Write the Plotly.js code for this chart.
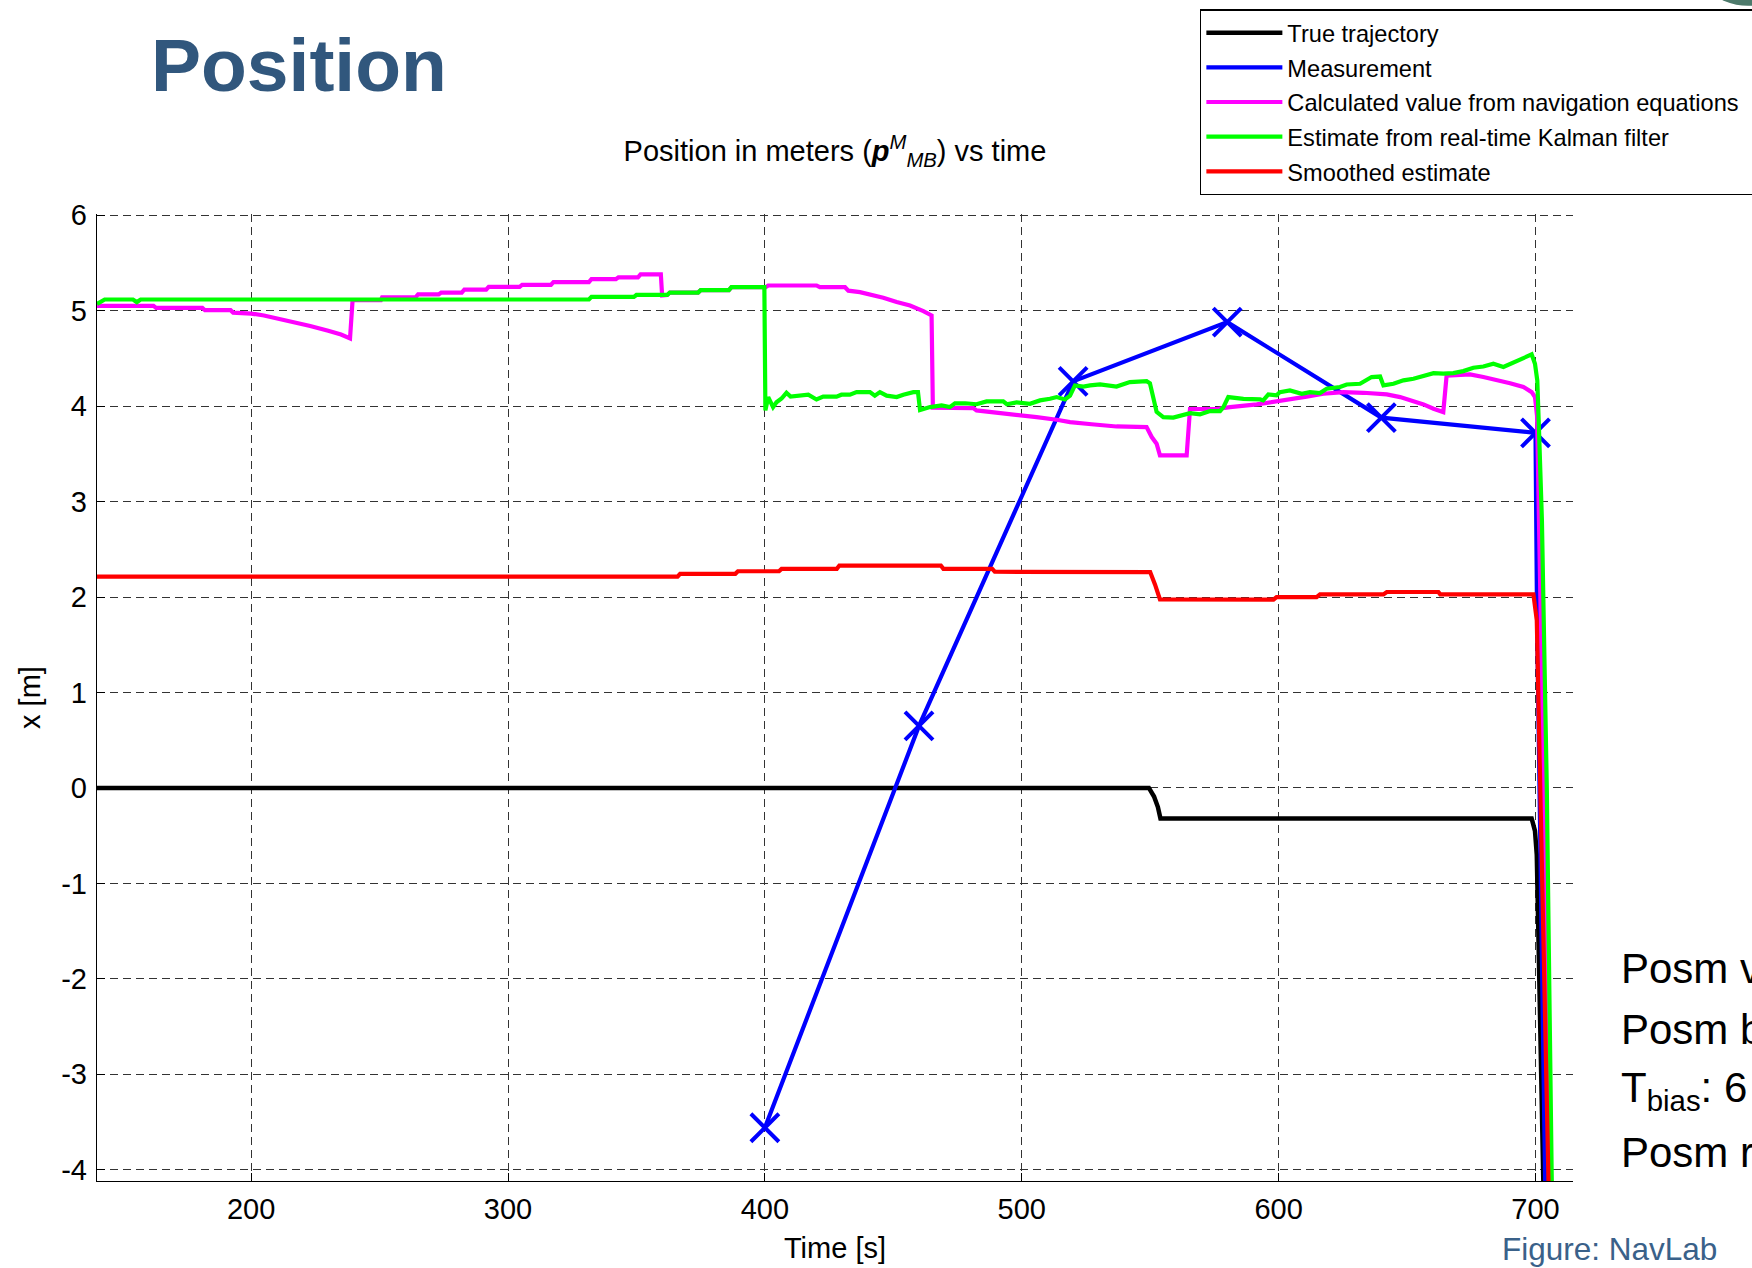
<!DOCTYPE html>
<html>
<head>
<meta charset="utf-8">
<script src="https://cdn.plot.ly/plotly-3.0.1.min.js"></script>
<style>
  html, body { margin: 0; padding: 0; background: #ffffff; overflow: hidden; }
  #chart { width: 1752px; height: 1268px; }
</style>
</head>
<body>
<div id="chart"></div>
<script>
// ---------------- data ----------------
const legendNames = [
  'True trajectory',
  'Measurement',
  'Calculated value from navigation equations\u00a0\u00a0',
  'Estimate from real-time Kalman filter',
  'Smoothed estimate'
];

// True trajectory
const tTrue = [140, 549.5, 551.5, 553, 554, 698.5, 699.8, 700.5, 701.1, 702, 703, 703.4];
const xTrue = [0, 0, -0.09, -0.2, -0.32, -0.32, -0.45, -0.7, -1.49, -2.51, -4.0, -4.6];

// Measurements (crosses) and the tail of the measurement line
const tMeas = [400, 460, 520, 580, 640, 700];
const xMeas = [-3.56, 0.65, 4.26, 4.88, 3.88, 3.72];
const tMeasTail = [700.6, 704];
const xMeasTail = [1.8, -4.6];

// Calculated value from navigation equations
const tNav = [140, 162, 163, 181, 182, 192, 193, 200, 205, 210, 216, 223, 230, 235, 238.5, 239.5,
  250.5, 251, 264, 265, 273, 274, 282, 283, 291.5, 292.5, 304.5, 305.5, 316.7, 317.7, 331.5, 332.5,
  342, 343, 350.6, 351.6, 359.5, 360, 362, 363, 374, 375, 386, 387, 400.3, 401.3, 420.1, 421.4, 431.2,
  432.5, 437, 440.9, 446.1, 451.3, 456.5, 461.7, 464.9, 465.4, 481.1, 482.4, 488.9, 498, 505.8, 513.6,
  518.8, 527.2, 536.9, 548.6, 550.6, 552.5, 553.8, 564.2, 565.5, 576, 581.1, 591.5, 597.9, 604.4,
  610.9, 617.4, 625.2, 633, 638.2, 642.1, 647.3, 651.8, 656.4, 660.3, 664.1, 665.4, 674.5, 679.7,
  684.9, 690.1, 695.3, 698.5, 699.8, 700.6, 706.2, 706.5];
const xNav = [5.05, 5.05, 5.03, 5.03, 5.005, 5.005, 4.98, 4.97, 4.95, 4.92, 4.89, 4.84, 4.79, 4.75, 4.71, 5.11,
  5.11, 5.14, 5.14, 5.17, 5.17, 5.19, 5.19, 5.22, 5.22, 5.25, 5.25, 5.27, 5.27, 5.30, 5.30, 5.33,
  5.33, 5.35, 5.35, 5.38, 5.38, 5.16, 5.165, 5.19, 5.19, 5.215, 5.215, 5.246, 5.246, 5.264, 5.264, 5.246, 5.246,
  5.21, 5.194, 5.17, 5.135, 5.09, 5.054, 4.995, 4.95, 3.983, 3.98, 3.955, 3.937, 3.913, 3.885, 3.857,
  3.833, 3.81, 3.787, 3.78, 3.676, 3.606, 3.484, 3.484, 3.97, 3.97, 3.99, 4.018, 4.042, 4.077,
  4.10, 4.13, 4.147, 4.14, 4.135, 4.123, 4.095, 4.06, 4.018, 3.973, 3.938, 4.32, 4.332, 4.305,
  4.277, 4.24, 4.20, 4.147, 4.095, 3.9, -4.3, -4.7];

// Estimate from real-time Kalman filter
const tKf = [140, 143, 154, 155.5, 157, 331.5, 332.5, 349, 350, 362, 363, 374, 375, 386, 387, 399.8, 400.2,
  401.3, 403.2, 404.5, 406.5, 408.4, 410, 412.3, 414.5, 416.9, 420.1, 422.7, 425, 427.9, 429.8, 433.1,
  435.7, 440.9, 442.8, 444.8, 447.4, 451.3, 453.9, 457.8, 459.6, 460.4, 464.3, 468.8, 472, 474, 478,
  482.4, 486.3, 492.8, 494.2, 498, 503.2, 507.1, 511, 513.6, 516.8, 518.8, 520.7, 524, 526.6, 530.5,
  536.9, 539.5, 542.1, 548.6, 549.9, 552.5, 555.1, 559, 561.6, 565.5, 569.4, 573.3, 577.2, 578.5,
  580.4, 586.3, 592.8, 594, 596, 599.2, 600.5, 604.4, 609, 612.2, 616.1, 618.7, 623.9, 626.5, 631.7,
  634.3, 636.2, 639.5, 640.8, 644.7, 648.6, 652.5, 656.4, 660.3, 664.1, 668, 671.9, 675.8, 679.7,
  683.6, 687.5, 691.4, 694.6, 697.2, 698.5, 699.8, 700.7, 701.3, 702.5, 704.4, 706.3, 706.6];
const xKf = [5.07, 5.117, 5.117, 5.09, 5.117, 5.117, 5.145, 5.145, 5.165, 5.165, 5.19, 5.19, 5.215, 5.215, 5.246, 5.246, 3.955,
  4.095, 3.99, 4.04, 4.08, 4.14, 4.10, 4.11, 4.11, 4.12, 4.07, 4.10, 4.10, 4.10, 4.12, 4.12,
  4.147, 4.147, 4.11, 4.147, 4.11, 4.095, 4.12, 4.147, 4.147, 3.96, 3.99, 4.007, 3.99, 4.03, 4.03,
  4.02, 4.05, 4.05, 4.02, 4.04, 4.025, 4.06, 4.077, 4.095, 4.07, 4.11, 4.217, 4.205, 4.217, 4.228,
  4.205, 4.228, 4.252, 4.262, 4.24, 3.94, 3.885, 3.88, 3.90, 3.927, 3.914, 3.948, 3.948, 3.99,
  4.095, 4.077, 4.07, 4.06, 4.123, 4.113, 4.147, 4.165, 4.13, 4.147, 4.137, 4.182, 4.20, 4.227, 4.234,
  4.27, 4.305, 4.31, 4.217, 4.234, 4.27, 4.287, 4.32, 4.346, 4.34, 4.346, 4.367, 4.402, 4.415,
  4.444, 4.41, 4.458, 4.496, 4.531, 4.542, 4.444, 4.27, 3.8, 2.8, 0.0, -4.2, -4.7];

// Smoothed estimate
const tSm = [140, 366, 367, 388.5, 389.5, 405.5, 406.5, 428, 429, 468.5, 469.5, 488.5, 489.5, 550,
  551.9, 553.8, 598, 599.2, 614.8, 616.1, 640.8, 642.1, 662.2, 662.9, 699.2, 700.5, 705.2, 705.5];
const xSm = [2.213, 2.213, 2.243, 2.243, 2.27, 2.27, 2.295, 2.295, 2.33, 2.33, 2.295, 2.295, 2.265, 2.262,
  2.13, 1.976, 1.973, 2.0, 2.0, 2.028, 2.028, 2.053, 2.053, 2.028, 2.028, 1.756, -4.3, -4.7];

const xTicks = [200, 300, 400, 500, 600, 700];
const yTicks = [-4, -3, -2, -1, 0, 1, 2, 3, 4, 5, 6];

// ---------------- figure ----------------
const FONT = 'Liberation Sans, Arial, Helvetica, sans-serif';
const LW = 4.2;

const traces = [
  { x: tTrue, y: xTrue, mode: 'lines', name: legendNames[0], legendgroup: 'g0',
    line: { color: '#000000', width: 4.5 } },
  { x: tMeas.concat(tMeasTail), y: xMeas.concat(xMeasTail), mode: 'lines', name: legendNames[1], legendgroup: 'g1',
    line: { color: '#0000ff', width: LW } },
  { x: tMeas, y: xMeas, mode: 'markers', name: legendNames[1], showlegend: false, legendgroup: 'g1',
    marker: { symbol: 'x-thin-open', size: 28, color: '#0000ff', line: { color: '#0000ff', width: 4 } } },
  { x: tNav, y: xNav, mode: 'lines', name: legendNames[2], legendgroup: 'g2',
    line: { color: '#ff00ff', width: LW } },
  { x: tKf, y: xKf, mode: 'lines', name: legendNames[3], legendgroup: 'g3',
    line: { color: '#00ff00', width: LW } },
  { x: tSm, y: xSm, mode: 'lines', name: legendNames[4], legendgroup: 'g4',
    line: { color: '#ff0000', width: LW } }
];

const gridStyle = { gridcolor: '#333333', gridwidth: 1, griddash: '8px,5px' };

const layout = {
  width: 1752,
  height: 1268,
  margin: { l: 97, r: 179, t: 214, b: 87, autoexpand: false },
  paper_bgcolor: '#ffffff',
  plot_bgcolor: '#ffffff',
  font: { family: FONT, size: 29, color: '#000000' },
  title: {
    text: 'Position in meters (<b><i>p</i></b><sup><i>M</i></sup><sub><i>MB</i></sub>) vs time',
    font: { family: FONT, size: 29, color: '#000000' },
    xref: 'paper', x: 0.5, xanchor: 'center',
    yref: 'container', y: 0.881, yanchor: 'middle'
  },
  xaxis: Object.assign({
    range: [140, 714.6],
    tickvals: xTicks,
    ticktext: xTicks.map(String),
    showgrid: true,
    zeroline: false,
    showline: true, linecolor: '#000000', linewidth: 1.2,
    ticks: 'inside', ticklen: 8, tickcolor: '#000000', tickwidth: 1,
    ticklabelstandoff: 2,
    tickfont: { family: FONT, size: 29, color: '#000000' },
    title: { text: 'Time [s]', font: { family: FONT, size: 29, color: '#000000' }, standoff: 13 },
    automargin: false
  }, gridStyle),
  yaxis: Object.assign({
    range: [-4.118, 6.013],
    tickvals: yTicks,
    ticktext: yTicks.map(String),
    showgrid: true,
    zeroline: false,
    showline: true, linecolor: '#000000', linewidth: 1.2,
    ticks: 'inside', ticklen: 8, tickcolor: '#000000', tickwidth: 1,
    ticklabelstandoff: 3,
    tickfont: { family: FONT, size: 29, color: '#000000' },
    title: { text: 'x [m]', font: { family: FONT, size: 29, color: '#000000' }, standoff: 12 },
    automargin: false
  }, gridStyle),
  showlegend: true,
  legend: {
    x: 0.7472, y: 1.2117, xanchor: 'left', yanchor: 'top',
    xref: 'paper', yref: 'paper',
    bgcolor: '#ffffff', bordercolor: '#000000', borderwidth: 1.5,
    font: { family: FONT, size: 23.6, color: '#000000' },
    itemwidth: 76,
    tracegroupgap: 1,
    traceorder: 'grouped'
  },
  shapes: [
    { type: 'circle', xref: 'paper', yref: 'paper',
      x0: 1.0779, x1: 1.1592, y0: 1.2153, y1: 1.3395,
      fillcolor: '#4d7a6b', line: { width: 0 } }
  ],
  annotations: [
    { text: '<b>Position</b>', xref: 'paper', yref: 'paper', x: 0.0355, y: 1.154,
      xanchor: 'left', yanchor: 'middle', showarrow: false,
      font: { family: FONT, size: 75, color: '#31577d' } },
    { text: 'Posm v', xref: 'paper', yref: 'paper', x: 1.0312, y: 0.2195,
      xanchor: 'left', yanchor: 'middle', showarrow: false,
      font: { family: FONT, size: 42, color: '#000000' } },
    { text: 'Posm b', xref: 'paper', yref: 'paper', x: 1.0312, y: 0.1563,
      xanchor: 'left', yanchor: 'middle', showarrow: false,
      font: { family: FONT, size: 42, color: '#000000' } },
    { text: 'T<sub>bias</sub>: 6', xref: 'paper', yref: 'paper', x: 1.0312, y: 0.0935,
      xanchor: 'left', yanchor: 'middle', showarrow: false,
      font: { family: FONT, size: 42, color: '#000000' } },
    { text: 'Posm r', xref: 'paper', yref: 'paper', x: 1.0312, y: 0.029,
      xanchor: 'left', yanchor: 'middle', showarrow: false,
      font: { family: FONT, size: 42, color: '#000000' } },
    { text: 'Figure: NavLab', xref: 'paper', yref: 'paper', x: 0.9505, y: -0.0704,
      xanchor: 'left', yanchor: 'middle', showarrow: false,
      font: { family: FONT, size: 31.5, color: '#3a6189' } }
  ]
};

Plotly.newPlot('chart', traces, layout, { staticPlot: true, displayModeBar: false });
</script>
</body>
</html>
